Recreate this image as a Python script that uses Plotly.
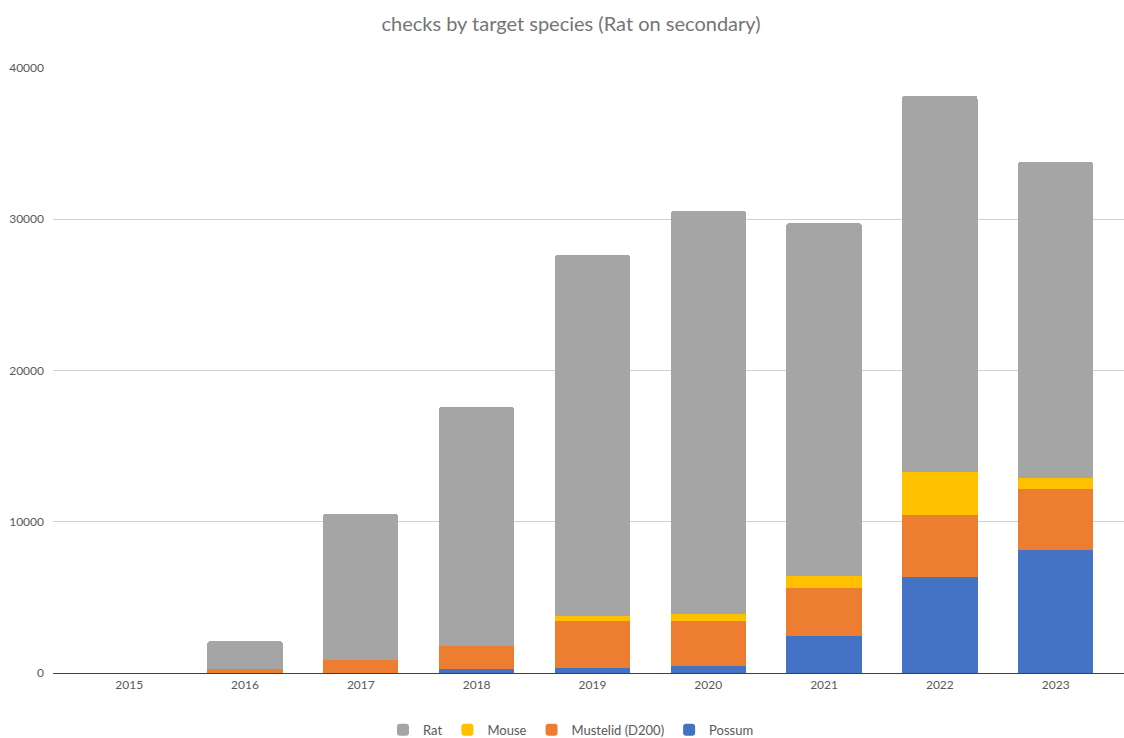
import plotly.graph_objects as go

years = ["2015", "2016", "2017", "2018", "2019", "2020", "2021", "2022", "2023"]

# Checks per year, one list per target species (stacked bottom to top)
possum = [0, 0, 0, 245, 350, 460, 2450, 6370, 8150]
mustelid = [0, 260, 860, 1560, 3110, 3000, 3170, 4060, 4030]
mouse = [0, 0, 0, 0, 330, 440, 790, 2890, 730]
rat = [0, 1840, 9650, 15780, 23850, 26650, 23340, 24840, 20870]

series = [
    ("Possum", possum, "#4472c4"),
    ("Mustelid (D200)", mustelid, "#ed7d31"),
    ("Mouse", mouse, "#ffc000"),
    ("Rat", rat, "#a5a5a5"),
]

FONT = "Lato, 'Open Sans', sans-serif"

fig = go.Figure()
for name, vals, color in series:
    fig.add_trace(go.Bar(
        x=years, y=vals, name=name,
        marker=dict(color=color, line=dict(width=0)),
    ))

fig.update_layout(
    barmode="stack",
    bargap=0.35,
    barcornerradius=3,
    width=1124, height=738,
    margin=dict(l=53, r=0, t=68, b=65),
    paper_bgcolor="white",
    plot_bgcolor="white",
    font=dict(family=FONT, size=12, color="#595959"),
    title=dict(
        text="checks by target species (Rat on secondary)",
        x=0.508, xref="container", xanchor="center",
        y=0.968, yref="container", yanchor="middle",
        font=dict(family=FONT, size=20, color="#757575"),
    ),
    xaxis=dict(
        type="category",
        range=[-0.658, 8.59],
        showline=True, linecolor="#404040", linewidth=1.3,
        showgrid=False, ticks="",
        tickfont=dict(size=12, color="#595959"),
    ),
    yaxis=dict(
        range=[0, 40000],
        tickvals=[0, 10000, 20000, 30000, 40000],
        ticktext=["0", "10000", "20000", "30000", "40000"],
        showgrid=True, gridcolor="#d0d0d0", gridwidth=1,
        zeroline=False, showline=False,
        ticks="", ticklabelstandoff=8,
        tickfont=dict(size=12, color="#595959"),
    ),
    legend=dict(
        orientation="h", traceorder="reversed",
        x=0.508, xref="container", xanchor="center",
        y=0.011, yref="container", yanchor="middle",
        font=dict(family=FONT, size=13, color="#595959"),
        itemwidth=30,
    ),
    showlegend=True,
)

fig.write_html("out.html")
